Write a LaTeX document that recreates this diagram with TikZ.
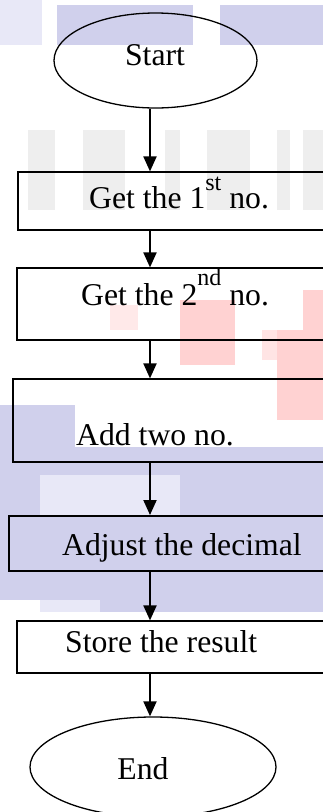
\documentclass[tikz,border=0pt]{standalone}
\usepackage{fontspec}
\setmainfont{Liberation Serif}
\usetikzlibrary{shapes.geometric,arrows.meta}
\definecolor{wmblue}{RGB}{208,208,236}
\definecolor{wmlight}{RGB}{232,232,247}
\definecolor{wmpink}{RGB}{255,210,210}
\definecolor{wmgray}{RGB}{238,238,238}
\newcommand{\sups}[2]{\raisebox{#1pt}{\fontsize{24}{26}\selectfont #2}}

\begin{document}
\begin{tikzpicture}[x=1pt,y=-1pt,
    every node/.style={inner sep=0pt,font=\fontsize{31.7}{36}\selectfont},
    term/.style={draw,ellipse,line width=1.3pt},
    stepbox/.style={draw,rectangle,line width=1.2pt},
    flow/.style={line width=2pt,-{Triangle[length=15pt,width=13pt]}}]
    \useasboundingbox (0,0) rectangle (323,812);
    \clip (0,0) rectangle (323,812);
    % watermark behind the chart
    \fill[wmlight] (0,0) rectangle (42,45);
    \fill[wmblue] (57,5) rectangle (193,45);
    \fill[wmblue] (220,5) rectangle (323,45);
    \foreach \x/\w in {28/27,83/42,165/15,207/43,277/13,303/20}
        \fill[wmgray] (\x,130) rectangle ++(\w,80);
    \fill[wmpink!50] (110,305) rectangle (138,330);
    \fill[wmpink] (180,300) rectangle (235,365);
    \fill[wmpink] (303,290) rectangle (323,330);
    \fill[wmpink!60] (262,330) rectangle (277,360);
    \fill[wmpink] (277,330) rectangle (323,420);
    \fill[wmblue] (0,405) rectangle (75,600);
    \fill[wmblue] (75,447) rectangle (323,475);
    \fill[wmlight] (40,475) rectangle (180,515);
    \fill[wmblue] (180,475) rectangle (323,515);
    \fill[wmblue] (75,515) rectangle (323,612);
    \fill[wmlight] (40,600) rectangle (100,612);
    % shapes
    \coordinate (spine) at (150,0);
    \node [term,minimum width=203pt,minimum height=95pt] (start) at (155.5,60.5) {};
    \node [stepbox,minimum width=322pt,minimum height=58pt] (first) at (179,201) {};
    \node [stepbox,minimum width=323pt,minimum height=72pt] (second) at (178.5,304) {};
    \node [stepbox,minimum width=327pt,minimum height=83pt] (add) at (176.5,420.5) {};
    \node [stepbox,line width=2pt,minimum width=331pt,minimum height=55pt] (adjust) at (174.5,543.5) {};
    \node [stepbox,minimum width=323pt,minimum height=52pt] (store) at (178.5,647) {};
    \node [term,minimum width=246pt,minimum height=100pt] (finish) at (153,767) {};
    % labels
    \node [anchor=base] (startlbl) at (155,65) {Start};
    \node [anchor=base west] (firstlbl) at (89,208) {Get the 1\sups{18}{st} no.};
    \node [anchor=base west] (secondlbl) at (81,305) {Get the 2\sups{20}{nd} no.};
    \node [anchor=base west] (addlbl) at (76,445) {Add two no.};
    \node [anchor=base west] (adjustlbl) at (62,555) {Adjust the decimal};
    \node [anchor=base west] (storelbl) at (65,652) {Store the result};
    \node [anchor=base] (finishlbl) at (143,779) {End};
    % arrows
    \draw [flow] (start.south -| spine) -- (spine |- first.north);
    \draw [flow] (first.south -| spine) -- (spine |- second.north);
    \draw [flow] (second.south -| spine) -- (spine |- add.north);
    \draw [flow] (add.south -| spine) -- (spine |- adjust.north);
    \draw [flow] (adjust.south -| spine) -- (spine |- store.north);
    \draw [flow] (store.south -| spine) -- (spine |- finish.north);
\end{tikzpicture}
\end{document}
